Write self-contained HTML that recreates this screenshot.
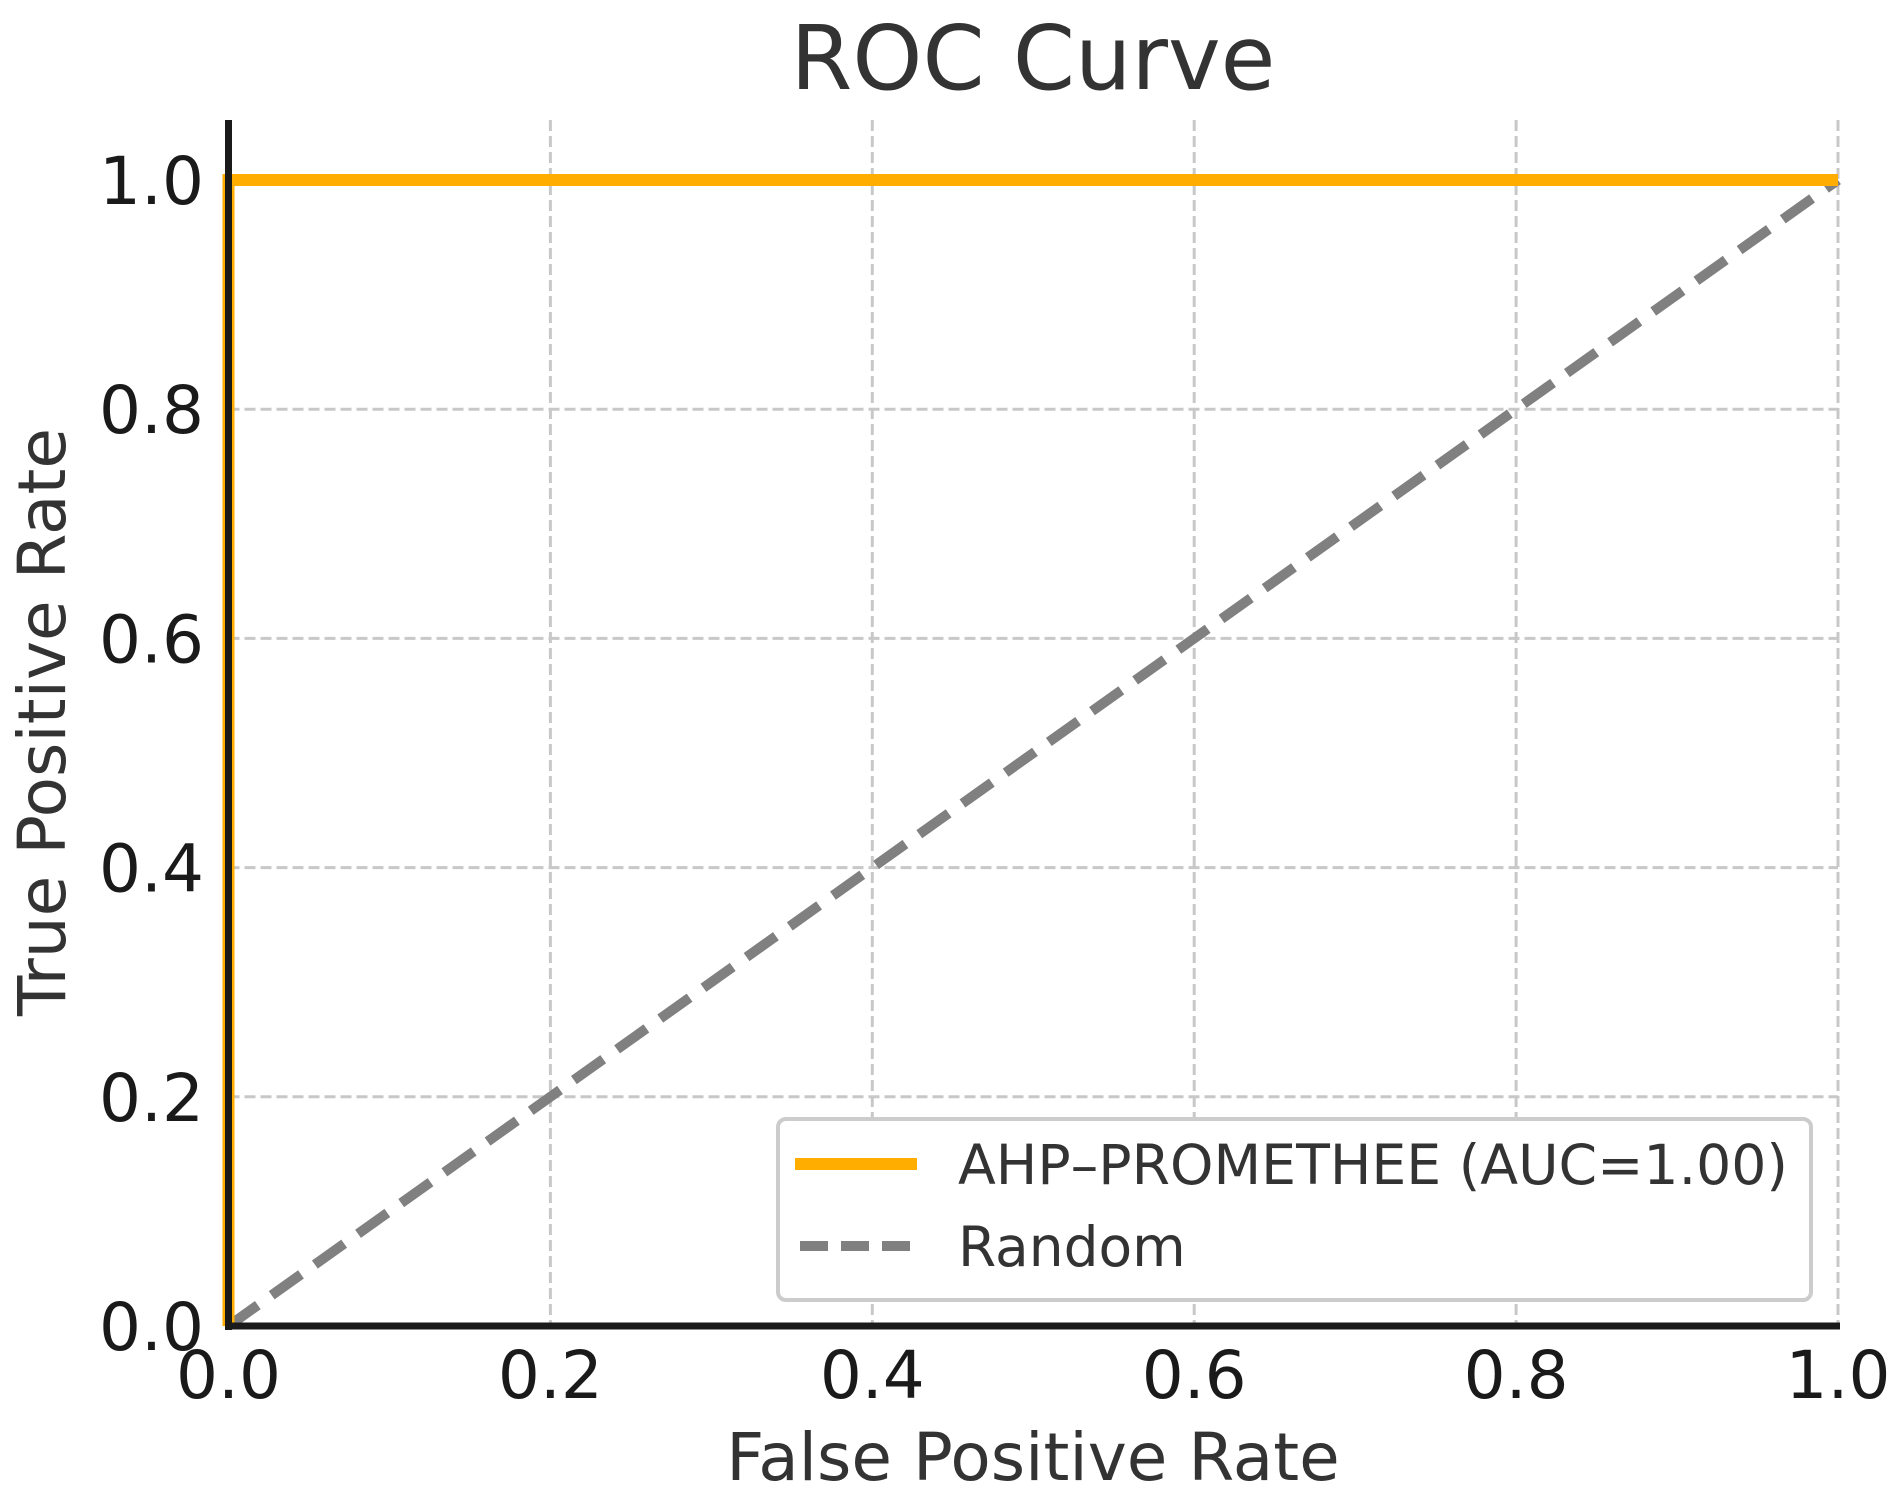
<!DOCTYPE html>
<html><head><meta charset="utf-8"><style>
html,body{margin:0;padding:0;background:#fff}
svg{display:block}
text{font-family:"DejaVu Sans","Liberation Sans",sans-serif}
</style></head><body>
<svg id="chart" width="1903" height="1509" viewBox="0 0 1903 1509">
<text x="1033" y="89" font-size="89" fill="#333" text-anchor="middle">ROC Curve</text>
<g id="grid"></g>
<g id="series"></g>
<g id="axes"></g>
<text x="1033" y="1480" font-size="66" fill="#333" text-anchor="middle">False Positive Rate</text>
<text transform="translate(65,722) rotate(-90)" font-size="66" fill="#333" text-anchor="middle">True Positive Rate</text>
<g>
<rect x="778" y="1119" width="1033" height="181" rx="8" fill="#fff" stroke="#ccc" stroke-width="4"/>
<g>
<line x1="795" y1="1164" x2="917" y2="1164" stroke="#FFAE00" stroke-width="12"/>
<text x="958" y="1184" font-size="55" fill="#333" textLength="830" lengthAdjust="spacingAndGlyphs">AHP–PROMETHEE (AUC=1.00)</text>
</g>
<g>
<line x1="800" y1="1246" x2="917" y2="1246" stroke="#808080" stroke-width="10" stroke-dasharray="28,13"/>
<text x="958" y="1266" font-size="55" fill="#333">Random</text>
</g>
</g>
</svg>
<script>
const xTicks = [0, 0.2, 0.4, 0.6, 0.8, 1.0];
const yTicks = [0, 0.2, 0.4, 0.6, 0.8, 1.0];
const xTickLabels = ["0.0","0.2","0.4","0.6","0.8","1.0"];
const yTickLabels = ["0.0","0.2","0.4","0.6","0.8","1.0"];
const rocFpr = [0, 0, 1];
const rocTpr = [0, 1, 1];
const randFpr = [0, 1];
const randTpr = [0, 1];

const X0=228.5, X1=1838, Y0=1326, Y1=180, YTOP=120;
const sx = v => X0 + v*(X1-X0);
const sy = v => Y0 - v*(Y0-Y1);
const NS="http://www.w3.org/2000/svg";
function mk(tag, attrs, parent){const e=document.createElementNS(NS,tag);for(const k in attrs)e.setAttribute(k,attrs[k]);parent.appendChild(e);return e;}
const grid=document.getElementById('grid'), series=document.getElementById('series'), axes=document.getElementById('axes');

xTicks.forEach((t,i)=>{
  if(t>0){const l=mk('line',{x1:sx(t),x2:sx(t),y1:YTOP,y2:Y0,stroke:'#c8c8c8','stroke-width':3,'stroke-dasharray':'11,5'},grid);
  
  }
  const tx=mk('text',{x:sx(t),y:1398,'font-size':66,fill:'#1a1a1a','text-anchor':'middle'},axes);
  tx.textContent=xTickLabels[i];
  
  
});
yTicks.forEach((t,i)=>{
  if(t>0){const l=mk('line',{x1:X0,x2:X1,y1:sy(t),y2:sy(t),stroke:'#c8c8c8','stroke-width':3,'stroke-dasharray':'11,5'},grid);
  
  }
  const tx=mk('text',{x:204,y:sy(t)+24,'font-size':66,fill:'#1a1a1a','text-anchor':'end'},axes);
  tx.textContent=yTickLabels[i];
  
  
});

const rnd=mk('polyline',{points:randFpr.map((v,i)=>sx(v)+','+sy(randTpr[i])).join(' '),fill:'none',stroke:'#808080','stroke-width':10,'stroke-dasharray':'36,17'},series);


const roc=mk('polyline',{points:rocFpr.map((v,i)=>sx(v)+','+sy(rocTpr[i])).join(' '),fill:'none',stroke:'#FFAE00','stroke-width':12},series);



const ls=mk('line',{x1:X0,x2:X0,y1:YTOP,y2:Y0+4,stroke:'#1a1a1a','stroke-width':7},axes);


const bs=mk('line',{x1:X0-3,x2:X1+2,y1:Y0,y2:Y0,stroke:'#1a1a1a','stroke-width':7},axes);


</script>
</body></html>
